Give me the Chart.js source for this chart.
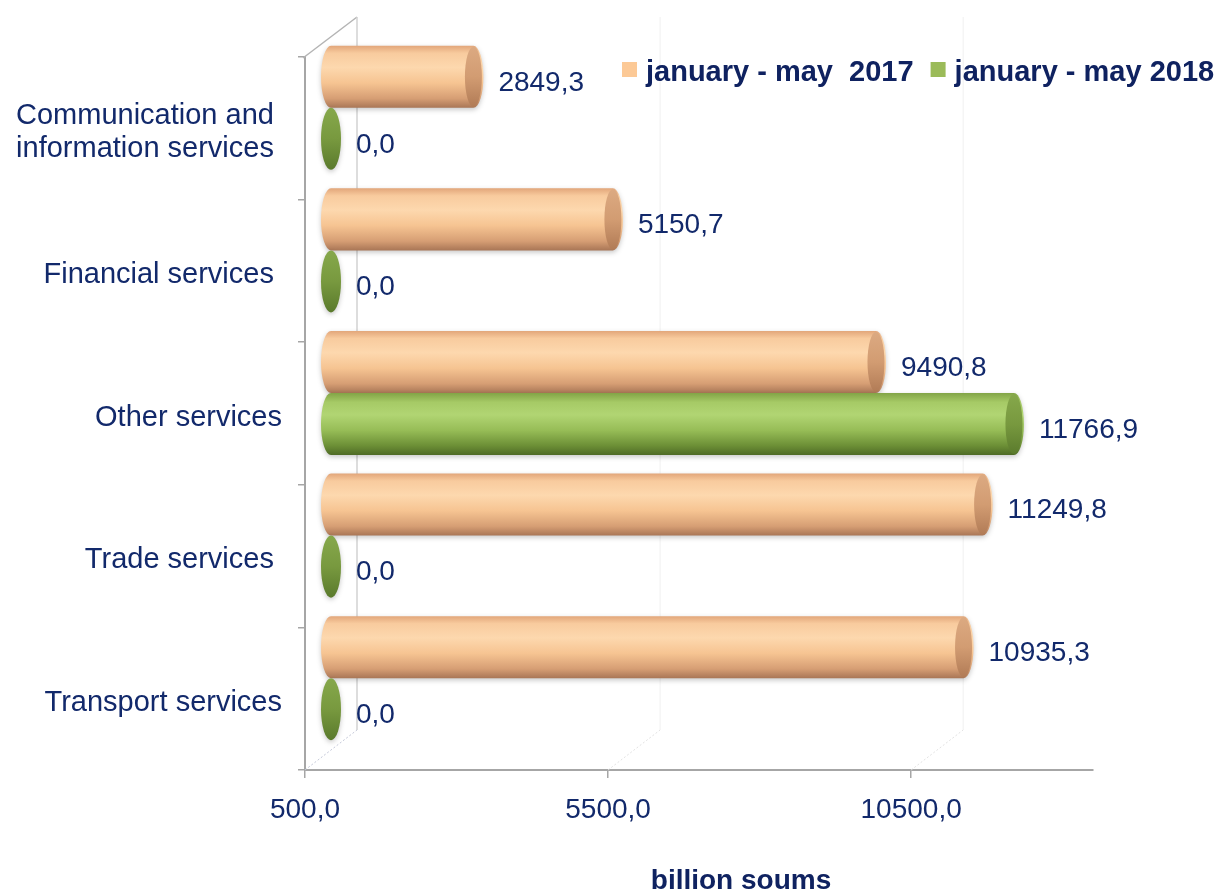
<!DOCTYPE html>
<html><head><meta charset="utf-8">
<script src="https://cdn.jsdelivr.net/npm/chart.js@4/dist/chart.umd.min.js"></script>
<style>html,body{margin:0;padding:0;background:#fff;}canvas{display:block;}</style>
</head><body>
<canvas id="c" width="1215" height="891"></canvas>
<script>
// ---- data ----
const categories = [["Communication and ", "information services "], "Financial services ", "Other services", "Trade services ", "Transport services"];
const seriesNames = ["january - may  2017", "january - may 2018"];
const values2017 = [2849.3, 5150.7, 9490.8, 11249.8, 10935.3];
const values2018 = [0.0, 0.0, 11766.9, 0.0, 0.0];
const xTickValues = [500, 5500, 10500];
const xMin = 500, xMax = 13500;
const axisTitle = "billion soums";

// ---- style ----
const FONT = "'Liberation Sans', Arial, sans-serif";
const NAVY = '#12296b';
const AXIS = '#a6a6a6';
const DEPTH = {dx: 52, dy: -40};
const BAR_SHIFT = {dx: 26, dy: -20.5};
const palettes = [
  { legend: '#fcc996',
    body: [[0,'#e2a67a'],[0.12,'#f8cb9e'],[0.35,'#fdd8ae'],[0.6,'#f6c492'],[0.85,'#d69e74'],[1,'#a97656']],
    cap: [[0,'#dcaa82'],[0.5,'#d29c72'],[1,'#b07a55']] },
  { legend: '#9bbb59',
    body: [[0,'#82a446'],[0.15,'#a6ca66'],[0.35,'#b1d573'],[0.6,'#97bd57'],[0.85,'#6c8f36'],[1,'#4f6b26']],
    cap: [[0,'#86a84b'],[0.5,'#78993f'],[1,'#5a7a2c']] }
];
const fmt = v => Number(v).toFixed(1).replace('.', ',');

function grad(ctx, y0, y1, stops) {
  const g = ctx.createLinearGradient(0, y0, 0, y1);
  stops.forEach(([s, c]) => g.addColorStop(s, c));
  return g;
}

function drawCylinder(ctx, x0, x1, yc, h, pal) {
  const ry = h / 2, rx = 10;
  const top = yc - ry, bot = yc + ry;
  ctx.save();
  ctx.shadowColor = 'rgba(0,0,0,0.22)';
  ctx.shadowBlur = 5;
  ctx.shadowOffsetY = 2;
  if (x1 > x0 + 0.5) {
    ctx.beginPath();
    ctx.ellipse(x0, yc, rx, ry, 0, Math.PI / 2, Math.PI * 1.5);
    ctx.lineTo(x1, top);
    ctx.ellipse(x1, yc, rx, ry, 0, -Math.PI / 2, Math.PI / 2);
    ctx.closePath();
    ctx.fillStyle = grad(ctx, top, bot, pal.body);
    ctx.fill();
    ctx.shadowColor = 'transparent';
    ctx.beginPath();
    ctx.ellipse(x1, yc, rx * 0.85, ry * 0.97, 0, 0, Math.PI * 2);
    ctx.fillStyle = grad(ctx, top, bot, pal.cap);
    ctx.fill();
  } else {
    ctx.beginPath();
    ctx.ellipse(x0, yc, rx, ry, 0, 0, Math.PI * 2);
    ctx.fillStyle = grad(ctx, top, bot, pal.cap);
    ctx.fill();
  }
  ctx.restore();
}

const depthShift = {
  id: 'depthShift',
  afterLayout(chart) {
    const xb = chart.scales.xb, yb = chart.scales.yb;
    xb._startPixel += BAR_SHIFT.dx; xb._endPixel += BAR_SHIFT.dx;
    yb._startPixel += BAR_SHIFT.dy; yb._endPixel += BAR_SHIFT.dy;
  }
};

const frame3d = {
  id: 'frame3d',
  beforeDatasetsDraw(chart) {
    const {ctx, chartArea: a, scales: {x}} = chart;
    ctx.save();
    ctx.strokeStyle = '#b4b4b4'; ctx.lineWidth = 1.5;
    ctx.beginPath();
    ctx.moveTo(a.left - 2, a.top + 1);
    ctx.lineTo(a.left + DEPTH.dx, a.top + DEPTH.dy);
    ctx.stroke();
    ctx.strokeStyle = '#d2d2d2'; ctx.lineWidth = 1.5;
    ctx.beginPath();
    ctx.moveTo(a.left + DEPTH.dx, a.top + DEPTH.dy);
    ctx.lineTo(a.left + DEPTH.dx, a.bottom + DEPTH.dy);
    ctx.stroke();
    ctx.strokeStyle = '#f0f0f0'; ctx.lineWidth = 1;
    xTickValues.slice(1).forEach(v => {
      const px = x.getPixelForValue(v) + DEPTH.dx;
      ctx.beginPath(); ctx.moveTo(px, a.top + DEPTH.dy); ctx.lineTo(px, a.bottom + DEPTH.dy); ctx.stroke();
    });
    ctx.setLineDash([2, 2]);
    xTickValues.forEach((v, i) => {
      const px = x.getPixelForValue(v);
      ctx.strokeStyle = i === 0 ? '#c4c8d8' : '#e2e2e2';
      ctx.beginPath(); ctx.moveTo(px, a.bottom); ctx.lineTo(px + DEPTH.dx, a.bottom + DEPTH.dy); ctx.stroke();
    });
    ctx.restore();
  },
  beforeDatasetDraw() { return false; },
  afterDatasetsDraw(chart) {
    const {ctx} = chart;
    chart.data.datasets.forEach((ds, di) => {
      const meta = chart.getDatasetMeta(di);
      meta.data.forEach((el, i) => {
        const p = el.getProps(['x', 'y', 'base', 'height'], true);
        const head = Math.max(p.x, p.base);
        drawCylinder(ctx, p.base, head, p.y, p.height, palettes[di]);
        ctx.save();
        ctx.font = `28px ${FONT}`;
        ctx.fillStyle = NAVY;
        ctx.textBaseline = 'middle';
        ctx.textAlign = 'left';
        ctx.fillText(fmt(ds.data[i]), head + 25, p.y + 6);
        ctx.restore();
      });
    });
    ctx.save();
    ctx.font = `bold 29px ${FONT}`;
    ctx.textBaseline = 'middle';
    let lx = 622;
    chart.data.datasets.forEach((ds, di) => {
      ctx.fillStyle = palettes[di].legend;
      ctx.fillRect(lx, 62, 15, 15);
      lx += 15 + 9;
      ctx.fillStyle = '#0f2260';
      ctx.fillText(ds.label, lx, 73);
      lx += ctx.measureText(ds.label).width + 17;
    });
    ctx.font = `bold 28px ${FONT}`;
    ctx.textAlign = 'center';
    ctx.fillStyle = '#0f2260';
    ctx.fillText(axisTitle, 741, 881);
    ctx.restore();
  }
};

new Chart(document.getElementById('c'), {
  type: 'bar',
  data: {
    labels: categories,
    datasets: [
      { label: seriesNames[0], data: values2017, xAxisID: 'xb', yAxisID: 'yb', base: xMin,
        backgroundColor: palettes[0].legend, categoryPercentage: 0.87, barPercentage: 1 },
      { label: seriesNames[1], data: values2018, xAxisID: 'xb', yAxisID: 'yb', base: xMin,
        backgroundColor: palettes[1].legend, categoryPercentage: 0.87, barPercentage: 1 }
    ]
  },
  options: {
    indexAxis: 'y',
    responsive: false,
    animation: false,
    layout: { padding: { top: 57, right: 122, bottom: 0, left: 0 } },
    plugins: { legend: { display: false }, tooltip: { enabled: false } },
    scales: {
      x: {
        type: 'linear', position: 'bottom', min: xMin, max: xMax,
        afterBuildTicks: s => { s.ticks = xTickValues.map(v => ({ value: v })); },
        afterFit: s => { s.height = 121; },
        grid: { drawOnChartArea: false, drawTicks: true, tickLength: 8, color: AXIS, lineWidth: 1.5 },
        border: { display: true, color: AXIS, width: 2 },
        ticks: { font: { family: FONT, size: 28 }, color: NAVY, padding: 15, callback: v => fmt(v) }
      },
      y: {
        type: 'category', position: 'left', offset: true,
        afterFit: s => { s.width = 305; },
        grid: { drawOnChartArea: false, drawTicks: true, tickLength: 7, offset: true, color: AXIS, lineWidth: 1.5 },
        border: { display: true, color: AXIS, width: 2 },
        ticks: { font: { family: FONT, size: 29, lineHeight: 1.15 }, color: NAVY, padding: 16, labelOffset: 4 }
      },
      xb: { type: 'linear', axis: 'x', display: false, min: xMin, max: xMax },
      yb: { type: 'category', axis: 'y', display: false, offset: true }
    }
  },
  plugins: [depthShift, frame3d]
});
</script>
</body></html>
